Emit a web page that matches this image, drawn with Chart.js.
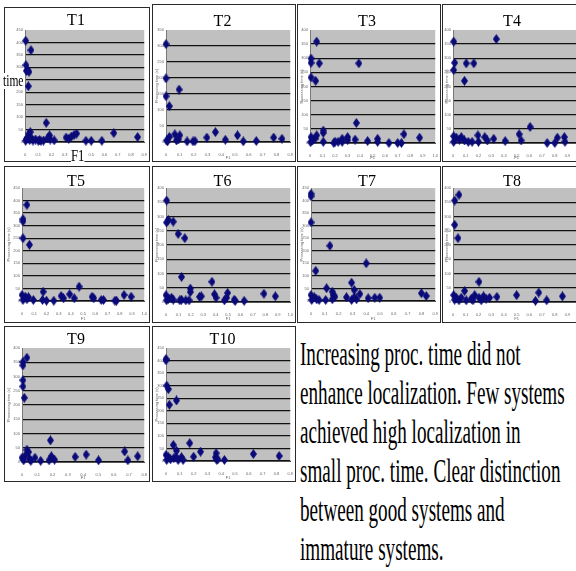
<!DOCTYPE html>
<html>
<head>
<meta charset="utf-8">
<script src="https://cdn.jsdelivr.net/npm/chart.js@4"></script>
<style>
  html, body { margin: 0; padding: 0; width: 576px; height: 571px; overflow: hidden; background: #fff; }
  .panel { position: absolute; box-sizing: border-box; border: 1px solid #2a2a2a; background: #fff; }
  .panel canvas { position: absolute; left: 0; top: 0; }
  .lbl { position: absolute; font-family: 'Liberation Serif', serif; color: #000; background: #fff; line-height: 1; transform-origin: 0 0; }
  #note { position: absolute; left: 300px; top: 335px; font-family: 'Liberation Serif', serif; font-size: 33px; line-height: 39px;
          white-space: nowrap; transform: scaleX(0.58); transform-origin: 0 0; color: #000; }
</style>
</head>
<body>
<div id="note">Increasing proc. time did not<br>enhance localization. Few systems<br>achieved high localization in<br>small proc. time. Clear distinction<br>between good systems and<br>immature systems.</div>

<script>
// data: [F1, processing time]
const t1 = [[0.005,407],[0.007,309],[0.01,286],[0.03,282],[0.02,289],[0.045,369],[0.025,224],[0.16,77],[0.185,27],[0.03,34],[0.04,40],
  [0.005,5],[0.01,12],[0.02,18],[0.035,8],[0.05,15],[0.06,6],[0.08,10],[0.1,5],[0.11,8],[0.12,4],[0.14,6],[0.17,15],[0.19,10],[0.22,7],
  [0.31,18],[0.33,13],[0.35,22],[0.37,28],[0.39,34],[0.46,5],[0.5,5],[0.58,5],[0.67,36],[0.85,20]];
const t2 = [[0,306],[0,199],[0,143],[0.024,112],[0.095,164],[0.005,5],[0.024,16],[0.064,24],[0.076,5],[0.1,21],[0.153,2],[0.196,2],
  [0.21,3],[0.296,14],[0.358,31],[0.43,7],[0.518,21],[0.56,2],[0.654,3],[0.78,14],[0.84,10],[0.01,2],[0.09,8]];
const t3 = [[0.053,359],[0.008,299],[0.008,284],[0.074,282],[0.39,282],[0.008,232],[0.045,220],[0.37,71],[0.106,36],[0.106,44],[0.36,12],
  [0.008,21],[0.019,9],[0.04,15],[0.053,27],[0.106,4],[0.19,0],[0.2,5],[0.225,4],[0.257,15],[0.257,4],[0.3,21],[0.3,10],[0.46,7],
  [0.54,15],[0.54,4],[0.63,0],[0.7,0],[0.73,0],[0.75,31],[0.875,19],[0.005,3]];
const t4 = [[0.005,359],[0.34,368],[0.013,284],[0.005,258],[0.104,282],[0.164,282],[0.09,220],[0.606,57],[0.005,24],[0.005,4],[0.026,19],
  [0.05,12],[0.065,21],[0.09,9],[0.12,4],[0.15,4],[0.196,27],[0.2,4],[0.25,21],[0.27,9],[0.32,15],[0.41,7],[0.52,31],[0.535,9],
  [0.74,0],[0.8,0],[0.82,19],[0.875,21],[0.88,4]];
const t5 = [[0.04,383],[0.008,326],[0.008,317],[0.008,250],[0.061,224],[0.467,57],[0.173,37],[0,24],[0.008,4],[0.027,17],[0.04,7],
  [0.053,15],[0.093,4],[0.168,4],[0.2,1],[0.26,1],[0.32,20],[0.34,11],[0.39,27],[0.427,11],[0.573,17],[0.587,11],[0.648,4],[0.667,4],
  [0.76,1],[0.773,1],[0.835,24],[0.893,17]];
const t6 = [[0.005,356],[0.005,279],[0.019,288],[0.058,282],[0.098,239],[0.151,224],[0.125,88],[0.196,47],[0.196,35],[0.37,71],[0.39,27],
  [0.403,15],[0.496,32],[0.788,29],[0.88,20],[0,24],[0.005,6],[0.019,12],[0.045,15],[0.058,8],[0.111,6],[0.125,8],[0.159,6],[0.186,6],
  [0.27,18],[0.284,20],[0.47,6],[0.488,15],[0.549,8],[0.557,4],[0.629,4]];
const t7 = [[0,427],[0,417],[0,313],[0.137,220],[0.034,120],[0.4,150],[0.294,73],[0.113,51],[0.313,44],[0.354,28],[0.154,37],[0.161,24],
  [0.173,17],[0.8,31],[0.835,20],[0,24],[0.005,4],[0.024,15],[0.041,7],[0.058,4],[0.106,4],[0.154,7],[0.257,15],[0.294,4],[0.313,15],
  [0.33,7],[0.414,11],[0.462,13],[0.498,13]];
const t8 = [[0.047,376],[0.013,356],[0.013,271],[0.039,224],[0.204,71],[0.091,39],[0.5,24],[0.674,33],[0.86,20],[0.648,4],[0.736,6],
  [0.005,24],[0.013,8],[0.026,15],[0.047,6],[0.065,15],[0.104,6],[0.144,12],[0.157,6],[0.17,24],[0.204,15],[0.222,6],[0.24,20],
  [0.26,12],[0.287,15],[0.345,18]];
const t9 = [[0.032,366],[0.006,351],[0.006,339],[0.006,287],[0.006,265],[0.015,225],[0.186,76],[0.032,43],[0.043,35],[0.672,37],[0.757,20],
  [0.42,26],[0.348,18],[0,15],[0.011,6],[0.021,23],[0.049,12],[0.058,4],[0.085,15],[0.122,4],[0.177,6],[0.192,20],[0.213,8],
  [0.501,6],[0.693,6]];
const t10 = [[0,406],[0,401],[0.005,300],[0.017,286],[0.024,224],[0.076,241],[0.053,64],[0.076,41],[0.172,71],[0.25,37],[0.2,17],
  [0.363,31],[0.633,28],[0.82,20],[0,24],[0.005,4],[0.017,15],[0.033,7],[0.057,11],[0.072,17],[0.088,4],[0.112,15],[0.124,4],
  [0.358,15],[0.368,4],[0.375,7],[0.423,4]];

const series = [t1, t2, t3, t4, t5, t6, t7, t8, t9, t10];
const titles = ['T1','T2','T3','T4','T5','T6','T7','T8','T9','T10'];
const xMax = [0.9, 0.9, 1, 1, 1, 1, 0.9, 1, 0.8, 0.9];
const yMax = [450, 350, 400, 400, 450, 400, 450, 400, 400, 450];
const yStep = 50;
const xStep = 0.1;

// page layout: box [l,t,r,b], plot area [l,t,r,b], title centre y
const boxes = [
  [4,7,150,162],[152,4,296,162],[297,4,441,162],[442,4,586,162],
  [4,166,150,323],[152,166,296,323],[297,166,441,323],[442,166,586,323],
  [4,326,150,482],[152,326,296,482]];
const plots = [
  [25,30,147,142],[166,30,292,142],[310,30,436,143],[453,30,581,143],
  [22,188,147,301],[166,188,292,302],[311,188,436,301],[453,188,581,302],
  [22,348,147,462],[166,348,292,461]];
const titleY = [20.5,21.5,21.5,21.5,181.5,181.5,181.5,181.5,340,340];

// little navy diamond, a bit taller than wide like the original
const dia = document.createElement('canvas');
dia.width = 7; dia.height = 10;
const dc = dia.getContext('2d');
dc.fillStyle = '#0a0a78';
dc.beginPath(); dc.moveTo(3.5,0); dc.lineTo(7,5); dc.lineTo(3.5,10); dc.lineTo(0,5); dc.closePath(); dc.fill();

const plotBg = {
  id: 'plotBg',
  beforeDraw(chart) {
    const a = chart.chartArea, c = chart.ctx;
    c.save(); c.fillStyle = '#c0c0c0';
    c.fillRect(a.left, a.top, a.right - a.left, a.bottom - a.top);
    c.restore();
  }
};

function addLabel(text, x, y, size, sx) {
  const d = document.createElement('div');
  d.className = 'lbl';
  d.textContent = text;
  d.style.left = x + 'px'; d.style.top = y + 'px';
  d.style.fontSize = size + 'px';
  d.style.transform = 'scaleX(' + sx + ')';
  document.body.appendChild(d);
}

series.forEach((pts, i) => {
  const b = boxes[i], p = plots[i];
  const wrap = document.createElement('div');
  wrap.className = 'panel';
  wrap.style.left = b[0] + 'px'; wrap.style.top = b[1] + 'px';
  wrap.style.width = (b[2] - b[0]) + 'px'; wrap.style.height = (b[3] - b[1]) + 'px';
  const cv = document.createElement('canvas');
  const w = b[2] - b[0] - 2, h = b[3] - b[1] - 2;
  cv.width = w; cv.height = h;
  cv.style.width = w + 'px'; cv.style.height = h + 'px';
  wrap.appendChild(cv);
  document.body.appendChild(wrap);

  const ox = b[0] + 1, oy = b[1] + 1;
  const yw = p[0] - ox;
  const rp = (ox + w) - p[2];
  const xh = (oy + h) - p[3];
  const titleH = p[1] - oy;
  const tp = titleY[i] - oy - 8;
  const tb = titleH - 16 - tp;
  const first = i === 0;

  new Chart(cv, {
    type: 'scatter',
    data: {
      datasets: [{
        data: pts.map(v => ({ x: v[0], y: v[1] })),
        pointStyle: dia,
        radius: 3,
        hoverRadius: 3,
        clip: false
      }]
    },
    options: {
      responsive: false,
      animation: false,
      events: [],
      layout: { padding: { left: 0, right: rp, top: 0, bottom: 0 } },
      plugins: {
        legend: { display: false },
        tooltip: { enabled: false },
        title: {
          display: true,
          text: titles[i],
          color: '#000',
          font: { family: 'Liberation Serif', size: 16, weight: 'normal', lineHeight: 1 },
          padding: { top: tp, bottom: tb }
        }
      },
      scales: {
        x: {
          type: 'linear', min: 0, max: xMax[i],
          ticks: { stepSize: xStep, color: '#666', font: { size: 4 }, padding: 2, maxRotation: 0, autoSkip: false },
          grid: { display: false },
          border: { display: true, color: '#555', width: 1 },
          title: { display: !first, text: 'F1', color: '#666', font: { size: 4 }, padding: 1 },
          afterFit: s => { s.height = xh; }
        },
        y: {
          type: 'linear', min: 0, max: yMax[i],
          ticks: { stepSize: yStep, color: '#666', font: { size: 4 }, padding: 2, autoSkip: false },
          grid: {
            drawTicks: false,
            lineWidth: 1.3,
            color: c => (c.tick && c.tick.value >= yMax[i]) ? 'rgba(0,0,0,0)' : '#111'
          },
          border: { display: true, color: '#777', width: 1 },
          title: { display: !first, text: 'Processing time (s)', color: '#666', font: { size: 4 }, padding: 1 },
          afterFit: s => { s.width = yw; }
        }
      }
    },
    plugins: [plotBg]
  });
});

// the hand-placed axis words on the first panel
addLabel('time', 3, 73, 16, 0.72);
addLabel('F1', 71, 147, 17, 0.75);
</script>
</body>
</html>
